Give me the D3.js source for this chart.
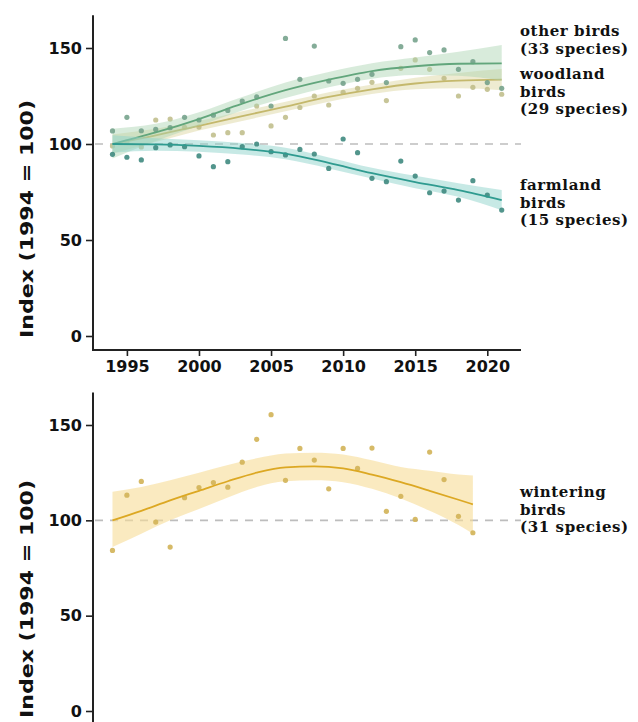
<!DOCTYPE html>
<html><head><meta charset="utf-8">
<script src="https://cdn.jsdelivr.net/npm/d3@7"></script>
<style>
html,body{margin:0;padding:0;background:#fff;}
svg{display:block;}
</style></head>
<body>
<svg id="c" width="638" height="722"></svg>
<script>
// ---------- DATA ----------
const years = d3.range(1994, 2022);
const otherPts = [106.8,113.9,106.9,107.6,108.5,113.9,112.5,115,117.5,122.4,124.5,119.8,155,133.7,151,132.8,131.6,133.7,136.3,132,150.7,154.2,147.6,149,138.9,142.9,132,129];
const woodPts  = [99,101,98.5,112.5,113,108.7,108.8,104.7,105.9,105.9,119.8,109.4,113.9,119,125,120.3,126.9,129,132.1,122.6,139.4,143.8,138.9,134.2,125,129.5,128.5,125.9];
const farmPts  = [94.6,93.1,91.7,98.1,99.5,98.6,93.8,88.2,90.8,98.6,100,96,94.3,97.2,94.8,87.3,102.6,95.5,82.1,80.4,91.1,83.3,74.6,75.5,70.8,80.9,73.4,65.6];

const trendYears = [1994,1997,2000,2003,2006,2009,2012,2015,2018,2021];
const otherFit = [100,106,113,121,128,133.5,138,140.5,141.8,142];
const otherLo  = [92.5,101.5,109.5,117.5,124,129.5,134,136,135.5,133];
const otherHi  = [108,110.5,116.5,124.5,132,137.5,142,145,148,151.5];
const woodFit  = [100,104.5,109.5,114.5,119.5,124.5,128.5,131.5,133,133.5];
const woodLo   = [95,101,107,112,117,122,126,128.5,129,128];
const woodHi   = [105,108,112,117,122,127,131,134.5,137,139];
const farmFit  = [100,99.8,99,97.5,95,90.2,84.8,80.2,76,70.8];
const farmLo   = [95.5,96.5,96,94.5,92,87.3,82,77,72.5,65.5];
const farmHi   = [104.5,103,102,100.5,98,93,87.6,83.4,79.5,76];

const winterYears = d3.range(1994, 2020);
const winterPts = [84.2,113.2,120.4,99.1,86,111.9,117.2,119.8,117.4,130.5,142.5,155.4,121,137.7,131.6,116.5,137.7,127.2,137.9,104.7,112.6,100.5,135.8,121.4,102.1,93.5];
const winterTrendYears = [1994,1996,1998,2000,2002,2004,2006,2008,2010,2012,2014,2016,2018,2019];
const winterFit = [100,105,110.5,115.5,120.5,125,127.8,128.3,127.3,124,120,115.5,110.8,108.4];
const winterLo  = [86,93,100,106,112,117.5,120.5,121,120,116.5,111.5,105,97.5,93];
const winterHi  = [115,117.5,121,125,129,132.5,135,135.5,134.5,131.5,128,126,124,123.5];

const yTicks = [0,50,100,150];
const xTicks = [1995,2000,2005,2010,2015,2020];
const labelsTop = [
  {lines:["other birds","(33 species)"], y:36},
  {lines:["woodland","birds","(29 species)"], y:79},
  {lines:["farmland","birds","(15 species)"], y:190}
];
const labelsBottom = [{lines:["wintering","birds","(31 species)"], y:497}];

// ---------- DRAW ----------
const svg = d3.select("#c");
const x = d3.scaleLinear([1995,2020],[126.9,487.3]);
const axisX0 = 93, axisX1 = 521;
const tickFont = "'DejaVu Sans', Verdana, sans-serif";
const labFont = "'DejaVu Serif', serif";

function panel(y, opts){
  const g = svg.append("g");
  const ya = g.append("g").attr("transform",`translate(${axisX0},0)`)
    .call(d3.axisLeft(y).tickValues(yTicks).tickSize(7).tickPadding(4).tickFormat(d3.format("d")));
  ya.select(".domain").remove();
  ya.selectAll("line").attr("stroke","#222").attr("stroke-width",1.6);
  ya.selectAll("text").attr("font-family",tickFont).attr("font-weight","bold").attr("font-size",16).attr("fill","#111");
  g.append("line").attr("x1",axisX0).attr("x2",axisX0).attr("y1",y(167)).attr("y2",opts.axisBottom)
    .attr("stroke","#222").attr("stroke-width",2);
  g.append("line").attr("x1",axisX0+2).attr("x2",axisX1).attr("y1",y(100)).attr("y2",y(100))
    .attr("stroke","#bdbdbd").attr("stroke-width",1.6).attr("stroke-dasharray","8,7");
  const cy = opts.titleCenter;
  g.append("text").attr("transform",`translate(33,${cy}) rotate(-90)`)
    .attr("text-anchor","middle").attr("font-family",tickFont).attr("font-weight","bold")
    .attr("font-size",17).attr("fill","#111").attr("textLength",238).attr("lengthAdjust","spacingAndGlyphs")
    .text("Index (1994 = 100)");
  return g;
}

function series(g, y, ty, fit, lo, hi, py, pts, c){
  const area = d3.area().x((d,i)=>x(ty[i])).y0((d,i)=>y(lo[i])).y1((d,i)=>y(hi[i])).curve(d3.curveMonotoneX);
  g.append("path").attr("d",area(fit)).attr("fill",c.band).attr("opacity",c.bandOp);
  g.selectAll(null).data(pts).join("circle").attr("cx",(d,i)=>x(py[i])).attr("cy",d=>y(d))
    .attr("r",2.6).attr("fill",c.pt).attr("opacity",c.ptOp);
  const line = d3.line().x((d,i)=>x(ty[i])).y(d=>y(d)).curve(d3.curveMonotoneX);
  g.append("path").attr("d",line(fit)).attr("fill","none").attr("stroke",c.line).attr("stroke-width",1.8);
}

function labels(g, list){
  list.forEach(l=>{
    l.lines.forEach((s,i)=>{
      g.append("text").attr("x",520).attr("y",l.y + i*17.5).attr("font-family",labFont)
        .attr("font-weight","bold").attr("font-size",15).attr("letter-spacing",0.6).attr("fill","#111").text(s);
    });
  });
}

// top panel
const yT = d3.scaleLinear([0,150],[336,48]);
const gT = panel(yT,{axisBottom:351, titleCenter:219});
gT.append("line").attr("x1",axisX0-1).attr("x2",axisX1).attr("y1",350).attr("y2",350).attr("stroke","#222").attr("stroke-width",2);
const xa = gT.append("g").attr("transform","translate(0,350)")
  .call(d3.axisBottom(x).tickValues(xTicks).tickSize(6).tickPadding(5).tickFormat(d3.format("d")));
xa.select(".domain").remove();
xa.selectAll("line").attr("stroke","#222").attr("stroke-width",1.6);
xa.selectAll("text").attr("font-family",tickFont).attr("font-weight","bold").attr("font-size",16).attr("fill","#111");

series(gT,yT,trendYears,woodFit,woodLo,woodHi,years,woodPts,{band:"#d9d29a",bandOp:0.45,pt:"#bdbb86",ptOp:0.85,line:"#c4b86c"});
series(gT,yT,trendYears,otherFit,otherLo,otherHi,years,otherPts,{band:"#a9d2b0",bandOp:0.45,pt:"#6f9e86",ptOp:0.85,line:"#62a67c"});
series(gT,yT,trendYears,farmFit,farmLo,farmHi,years,farmPts,{band:"#8fd3cc",bandOp:0.5,pt:"#3f8a80",ptOp:0.9,line:"#2f9b90"});
labels(gT,labelsTop);

// bottom panel
const yB = d3.scaleLinear([0,150],[711,425]);
const gB = panel(yB,{axisBottom:722, titleCenter:599});
series(gB,yB,winterTrendYears,winterFit,winterLo,winterHi,winterYears,winterPts,{band:"#f6dc96",bandOp:0.6,pt:"#d2b257",ptOp:0.9,line:"#dca823"});
labels(gB,labelsBottom);
</script>
</body></html>
